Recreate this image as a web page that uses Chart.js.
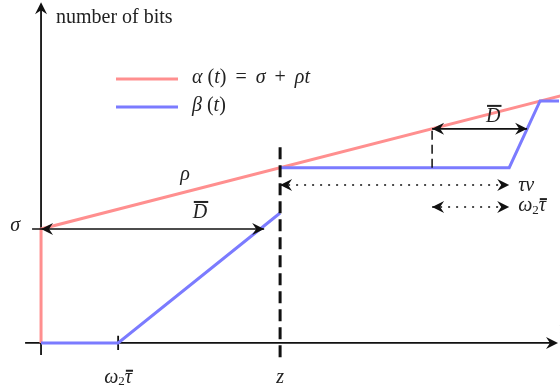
<!DOCTYPE html>
<html>
<head>
<meta charset="utf-8">
<script src="https://cdn.jsdelivr.net/npm/chart.js@4/dist/chart.umd.min.js"></script>
<style>
  html, body { margin: 0; padding: 0; background: #fff; }
</style>
</head>
<body>
<canvas id="curves" width="560" height="390"></canvas>
<script>
// curves (t = time units, bits = data units)
const alphaT    = [0, 0, 26.1];
const alphaBits = [0, 4, 8.67];
const betaT     = [0, 3.87, 12, 12, 12, 23.5, 25.05, 26];
const betaBits  = [0, 0, 4.56, null, 6.15, 6.15, 8.49, 8.49];
// dashed guides
const zT = [12, 12],        zBits = [-0.5, 7.02];
const guideT = [19.63, 19.63], guideBits = [6.15, 7.51];
// tick labels on the time axis
const tickT = [3.87, 12];
const tickLabels = ['w2tau', 'z'];
const legendLabels = ['α(t) = σ + ρt', 'β(t)'];

const PINK = '#ff8f8f';
const BLUE = '#7b7bff';
const INK = '#111';
const MATH = 'italic 20px "Liberation Serif"';
const ROMAN = '20px "Liberation Serif"';

const pts = (xs, ys) => xs.map((x, i) => ({ x: x, y: ys[i] }));

function head(ctx, x, y, ang) {
    ctx.save();
    ctx.translate(x, y);
    ctx.rotate(ang);
    ctx.beginPath();
    ctx.moveTo(0, 0);
    ctx.lineTo(-12, -6);
    ctx.lineTo(-8, 0);
    ctx.lineTo(-12, 6);
    ctx.closePath();
    ctx.fill();
    ctx.restore();
}

// token list: [text, font, dy, overlineOffset]
function drawTokens(ctx, toks, x, y, align) {
    let w = 0;
    toks.forEach(t => { ctx.font = t[1]; w += ctx.measureText(t[0]).width; });
    let cx = align === 'center' ? x - w / 2 : (align === 'right' ? x - w : x);
    ctx.textBaseline = 'middle';
    ctx.textAlign = 'left';
    toks.forEach(t => {
        ctx.font = t[1];
        const tw = ctx.measureText(t[0]).width;
        ctx.fillText(t[0], cx, y + (t[2] || 0));
        if (t[3]) {
            ctx.fillRect(cx + 1, y - t[3], tw, 2);
        }
        cx += tw;
    });
}

const W2TAU = [['ω', MATH], ['2', '13px "Liberation Serif"', 4], ['τ', MATH, 0, 8]];
const DBAR = [['D', MATH, 0, 12]];

const overlay = {
    id: 'overlay',
    beforeDatasetsDraw(chart) {
        const { ctx, scales: { x, y } } = chart;
        const X = v => x.getPixelForValue(v), Y = v => y.getPixelForValue(v);
        ctx.save();
        ctx.strokeStyle = INK;
        ctx.fillStyle = INK;
        ctx.lineWidth = 1.8;
        // axes
        ctx.beginPath();
        ctx.moveTo(X(-0.8), Y(0)); ctx.lineTo(X(25.8), Y(0));
        ctx.moveTo(X(0), Y(-0.42)); ctx.lineTo(X(0), Y(11.85));
        ctx.moveTo(X(tickT[0]), Y(-0.25)); ctx.lineTo(X(tickT[0]), Y(0.25));
        ctx.stroke();
        head(ctx, X(25.95), Y(0), 0);
        head(ctx, X(0), Y(11.95), -Math.PI / 2);
        ctx.restore();
    },
    afterDatasetsDraw(chart) {
        const { ctx, scales: { x, y } } = chart;
        const X = v => x.getPixelForValue(v), Y = v => y.getPixelForValue(v);
        ctx.save();
        ctx.strokeStyle = INK;
        ctx.fillStyle = INK;
        const arrows = [
            { a: [-0.45, 4], b: [11.2, 4], s: [0, 4], dash: [] },
            { a: [19.63, 7.51], b: [24.4, 7.51], s: [19.63, 7.51], dash: [] },
            { a: [12, 5.54], b: [23.5, 5.54], s: [12, 5.54], dash: [2, 6] },
            { a: [19.63, 4.77], b: [23.5, 4.77], s: [19.63, 4.77], dash: [2, 6] }
        ];
        arrows.forEach(r => {
            ctx.lineWidth = 1.6;
            ctx.setLineDash(r.dash);
            ctx.beginPath();
            ctx.moveTo(X(r.a[0]), Y(r.a[1]));
            ctx.lineTo(X(r.b[0]), Y(r.b[1]));
            ctx.stroke();
            ctx.setLineDash([]);
            head(ctx, X(r.s[0]), Y(r.s[1]), Math.PI);
            head(ctx, X(r.b[0]), Y(r.b[1]), 0);
        });

        // labels
        ctx.fillStyle = '#222';
        drawTokens(ctx, [['ρ', MATH]], X(7.23), Y(5.9), 'center');
        drawTokens(ctx, DBAR, X(7.98), Y(4.56), 'center');
        drawTokens(ctx, DBAR, X(22.7), Y(7.93), 'center');
        drawTokens(ctx, [['σ', MATH]], X(-1.3), Y(4.1), 'center');
        drawTokens(ctx, [['τ', MATH], ['v', MATH]], X(23.95), Y(5.5), 'left');
        drawTokens(ctx, W2TAU, X(23.95), Y(4.8), 'left');
        drawTokens(ctx, W2TAU, X(tickT[0]), Y(-1.22), 'center');
        drawTokens(ctx, [[tickLabels[1], MATH]], X(tickT[1]), Y(-1.22), 'center');
        drawTokens(ctx, [['t', MATH]], X(26), Y(0.45), 'left');
        drawTokens(ctx, [['number of bits', ROMAN]], 56, 18, 'left');

        // legend
        const rows = [
            { c: PINK, y: 79, toks: [['α', MATH], [' (', ROMAN], ['t', MATH], [')', ROMAN], [' \u2009=\u2009 ', ROMAN], ['σ', MATH], [' \u2009+\u2009 ', ROMAN], ['ρt', MATH]] },
            { c: BLUE, y: 107, toks: [['β', MATH], [' (', ROMAN], ['t', MATH], [')', ROMAN]] }
        ];
        rows.forEach(r => {
            ctx.strokeStyle = r.c;
            ctx.lineWidth = 3;
            ctx.beginPath();
            ctx.moveTo(116, r.y); ctx.lineTo(178, r.y);
            ctx.stroke();
            ctx.fillStyle = '#222';
            drawTokens(ctx, r.toks, 192, r.y - 1, 'left');
        });
        ctx.restore();
    }
};

new Chart(document.getElementById('curves').getContext('2d'), {
    type: 'scatter',
    data: {
        datasets: [
            { label: 'z', data: pts(zT, zBits), showLine: true, borderColor: INK, borderWidth: 3,
              borderDash: [12, 6], pointRadius: 0, order: 0 },
            { label: 'guide', data: pts(guideT, guideBits), showLine: true, borderColor: INK, borderWidth: 1.5,
              borderDash: [9, 5], pointRadius: 0, order: 0 },
            { label: legendLabels[1], data: pts(betaT, betaBits), showLine: true, borderColor: BLUE, borderWidth: 3,
              pointRadius: 0, spanGaps: false, order: 1 },
            { label: legendLabels[0], data: pts(alphaT, alphaBits), showLine: true, borderColor: PINK, borderWidth: 3,
              pointRadius: 0, order: 2 }
        ]
    },
    options: {
        responsive: false,
        animation: false,
        layout: { padding: 0 },
        plugins: { legend: { display: false }, tooltip: { enabled: false } },
        scales: {
            x: { type: 'linear', min: -2.06, max: 26.05, display: false },
            y: { type: 'linear', min: -1.65, max: 12.03, display: false }
        }
    },
    plugins: [overlay]
});
</script>
</body>
</html>
